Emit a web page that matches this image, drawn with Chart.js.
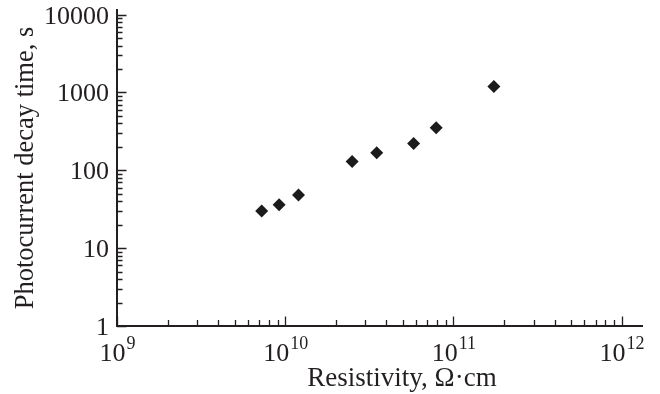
<!DOCTYPE html>
<html>
<head>
<meta charset="utf-8">
<script src="https://cdn.jsdelivr.net/npm/chart.js@4/dist/chart.umd.min.js"></script>
<style>
  html, body { margin: 0; padding: 0; background: #fff; }
  #wrap { width: 660px; height: 394px; }
</style>
</head>
<body>
<div id="wrap"><canvas id="decayChart" width="660" height="394"></canvas></div>
<script>
(function () {
  "use strict";

  // data
  const resistivity = [7.25e9, 9.2e9, 1.2e10, 2.5e10, 3.5e10, 5.8e10, 7.9e10, 1.74e11];
  const decayTime = [30, 36, 48, 130, 168, 221, 353, 1190];

  // axis ticks
  const xDecades = [1e9, 1e10, 1e11, 1e12];
  const xExponents = ["9", "10", "11", "12"];
  const yDecades = [1, 10, 100, 1000, 10000];
  const yLabels = ["1", "10", "100", "1000", "10000"];

  const xTitle = "Resistivity, \u03A9\u00B7cm";
  const yTitle = "Photocurrent decay time, s";

  const ink = "#231f20";
  const serif = "'Liberation Serif', 'Times New Roman', serif";

  const minorsOf = (decades) => {
    const out = [];
    for (let i = 0; i < decades.length - 1; i++) {
      for (let k = 2; k <= 9; k++) out.push(decades[i] * k);
    }
    return out;
  };

  const axesPlugin = {
    id: "paperAxes",
    afterDraw(chart) {
      const { ctx, chartArea: a } = chart;
      const xs = chart.scales.x, ys = chart.scales.y;
      ctx.save();
      ctx.strokeStyle = ink;
      ctx.fillStyle = ink;

      // axis lines
      ctx.lineWidth = 2;
      ctx.beginPath();
      ctx.moveTo(a.left, a.top);
      ctx.lineTo(a.left, a.bottom);
      ctx.lineTo(a.right, a.bottom);
      ctx.stroke();

      // ticks, pointing inward
      ctx.lineWidth = 1.3;
      ctx.beginPath();
      xDecades.forEach((v) => {
        const px = Math.round(xs.getPixelForValue(v)) + 0.5;
        ctx.moveTo(px, a.bottom); ctx.lineTo(px, a.bottom - 9.5);
      });
      minorsOf(xDecades).forEach((v) => {
        const px = Math.round(xs.getPixelForValue(v)) + 0.5;
        ctx.moveTo(px, a.bottom); ctx.lineTo(px, a.bottom - 6);
      });
      yDecades.forEach((v) => {
        const py = Math.round(ys.getPixelForValue(v)) + 0.5;
        ctx.moveTo(a.left, py); ctx.lineTo(a.left + 9.5, py);
      });
      minorsOf(yDecades).forEach((v) => {
        const py = Math.round(ys.getPixelForValue(v)) + 0.5;
        ctx.moveTo(a.left, py); ctx.lineTo(a.left + 5.5, py);
      });
      ctx.stroke();

      // y tick labels
      ctx.font = "26px " + serif;
      ctx.textAlign = "right";
      ctx.textBaseline = "alphabetic";
      yDecades.forEach((v, i) => {
        const py = ys.getPixelForValue(v);
        ctx.fillText(yLabels[i], a.left - 8, py + 9);
      });

      // x tick labels: 10 with superscript exponent
      xDecades.forEach((v, i) => {
        const px = xs.getPixelForValue(v);
        ctx.font = "26px " + serif;
        const wBase = ctx.measureText("10").width;
        ctx.font = "18px " + serif;
        const wExp = ctx.measureText(xExponents[i]).width;
        const x0 = px - (wBase + wExp) / 2;
        ctx.textAlign = "left";
        ctx.font = "26px " + serif;
        ctx.fillText("10", x0, a.bottom + 35);
        ctx.font = "18px " + serif;
        ctx.fillText(xExponents[i], x0 + wBase + 1, a.bottom + 23);
      });

      // axis titles
      ctx.font = "27px " + serif;
      ctx.textAlign = "center";
      ctx.fillText(xTitle, 402, a.bottom + 60);

      ctx.font = "26.5px " + serif;
      ctx.translate(33, 168);
      ctx.rotate(-Math.PI / 2);
      ctx.fillText(yTitle, 0, 0);
      ctx.restore();
    },
  };

  const initChart = () => {
    const el = document.getElementById("decayChart");
    if (!window.Chart || !el) return;
    new Chart(el, {
      type: "scatter",
      data: {
        datasets: [
          {
            data: resistivity.map((r, i) => ({ x: r, y: decayTime[i] })),
            pointStyle: "rectRot",
            pointRadius: 6.5,
            backgroundColor: "#1b1b1b",
            borderWidth: 0,
          },
        ],
      },
      options: {
        responsive: false,
        animation: false,
        layout: { padding: { top: 9, right: 17, left: 0, bottom: 0 } },
        plugins: { legend: { display: false }, tooltip: { enabled: false } },
        scales: {
          x: {
            type: "logarithmic",
            min: 1e9,
            max: 1.34e12,
            grid: { display: false },
            border: { display: false },
            ticks: { display: false },
            afterFit: (s) => { s.height = 68; },
          },
          y: {
            type: "logarithmic",
            min: 1,
            max: 11800,
            grid: { display: false },
            border: { display: false },
            ticks: { display: false },
            afterFit: (s) => { s.width = 117; },
          },
        },
      },
      plugins: [axesPlugin],
    });
  };

  document.addEventListener("DOMContentLoaded", initChart);
})();
</script>
</body>
</html>
